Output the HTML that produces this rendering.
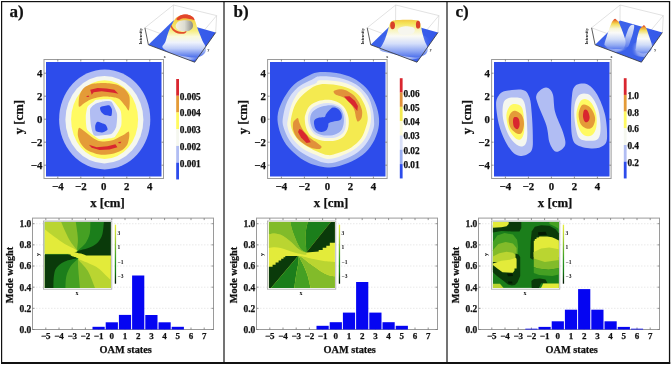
<!DOCTYPE html>
<html><head><meta charset="utf-8"><style>
html,body{margin:0;padding:0;background:#fff;overflow:hidden;}
svg{display:block;filter:blur(0.35px);}
text{font-family:"Liberation Serif",serif;font-weight:bold;fill:#111;stroke:#111;stroke-width:0.25px;}
text[font-weight="normal"]{stroke:none;}
</style></head><body>
<svg width="671" height="365" viewBox="0 0 671 365">
<rect x="0" y="0" width="671" height="365" fill="#fff"/>
<rect x="46" y="62" width="115.5" height="114.5" fill="#2d4ceb"/>
<ellipse cx="104.7" cy="119.4" rx="45.6" ry="50" fill="#b1bdf3"/>
<ellipse cx="104.4" cy="119.7" rx="39" ry="43.7" fill="#f5f7ef"/>
<ellipse cx="104.6" cy="119.6" rx="33.5" ry="39.3" fill="#fffa62"/>
<path d="M78.90,106.60 C78.31,105.57 78.75,98.29 79.40,95.80 C80.05,93.31 82.16,89.49 83.80,87.90 C85.44,86.31 88.94,84.57 91.70,83.90 C94.46,83.23 101.21,82.83 104.50,82.90 C107.79,82.97 113.76,83.61 116.40,84.40 C119.04,85.19 122.59,87.28 124.30,88.80 C126.01,90.32 128.48,93.83 129.20,95.80 C129.92,97.77 129.77,101.64 129.70,103.60 C129.63,105.56 129.29,110.18 128.70,110.50 C128.11,110.82 126.42,107.40 125.30,106.00 C124.18,104.60 121.62,101.12 120.30,100.00 C118.98,98.88 117.52,98.07 115.40,97.60 C113.28,97.13 107.32,96.39 104.40,96.50 C101.48,96.61 95.62,97.87 93.50,98.40 C91.38,98.93 89.79,99.82 88.50,100.50 C87.21,101.18 85.08,102.69 83.80,103.50 C82.52,104.31 79.49,107.63 78.90,106.60Z" fill="#e49b38"/>
<path d="M78.90,127.90 C77.98,128.47 77.63,133.69 77.90,135.80 C78.17,137.91 79.58,141.73 80.90,143.70 C82.22,145.67 85.31,149.15 87.80,150.60 C90.29,152.05 96.45,154.13 99.60,154.60 C102.75,155.07 108.51,154.63 111.40,154.10 C114.29,153.57 119.19,151.85 121.30,150.60 C123.41,149.35 126.15,146.54 127.20,144.70 C128.25,142.86 129.00,138.57 129.20,136.80 C129.40,135.03 129.35,131.71 128.70,131.40 C128.05,131.09 125.42,133.82 124.30,134.50 C123.18,135.18 121.75,135.77 120.30,136.50 C118.85,137.23 115.51,139.33 113.40,140.00 C111.29,140.67 106.61,141.43 104.50,141.50 C102.39,141.57 99.31,141.10 97.60,140.50 C95.89,139.90 93.41,138.20 91.70,137.00 C89.99,135.80 86.51,132.71 84.80,131.50 C83.09,130.29 79.82,127.33 78.90,127.90Z" fill="#e49b38"/>
<path d="M90.20,89.80 L97.60,87.90 L106.50,88.40 L114.40,89.80 L118.40,93.80 L113.40,92.80 L101.60,91.30 L93.70,92.30 L91.70,94.80Z" fill="#d9262f"/>
<path d="M86.30,96.30 L88.50,95.60 L89.30,96.80 L86.80,97.00Z" fill="#d9262f"/>
<path d="M88.80,144.70 L96.70,147.20 L107.50,146.20 L115.40,144.20 L117.40,147.20 L109.50,149.60 L99.60,150.10 L91.70,147.70Z" fill="#d9262f"/>
<path d="M118.40,142.00 L121.30,141.80 L120.50,143.20 L118.60,143.20Z" fill="#d9262f"/>
<path d="M87.50,107.00 C88.27,105.52 92.60,102.52 93.50,101.80 C94.40,101.08 94.70,100.00 96.50,99.80 C98.30,99.60 109.09,98.70 111.50,99.80 C113.91,100.90 119.62,108.25 120.60,110.80 C121.58,113.35 121.88,122.69 121.30,125.30 C120.72,127.91 116.53,135.55 114.80,136.90 C113.07,138.25 105.60,138.58 104.00,138.80 C102.40,139.02 100.48,140.01 98.80,139.10 C97.12,138.19 88.50,131.95 87.20,129.70 C85.90,127.45 85.77,118.87 85.80,116.60 C85.83,114.33 86.73,108.48 87.50,107.00Z" fill="#f5f7ef"/>
<path d="M95.50,103.80 C96.83,103.04 102.91,101.49 104.40,101.30 C105.89,101.11 110.32,100.64 111.50,101.80 C112.68,102.96 116.56,111.37 117.00,113.70 C117.44,116.03 116.74,124.91 116.20,126.80 C115.66,128.69 113.23,133.19 111.20,134.00 C109.17,134.81 96.39,136.31 94.50,135.50 C92.61,134.69 91.31,127.74 90.90,125.30 C90.49,122.86 89.67,111.41 90.10,109.40 C90.53,107.39 94.17,104.56 95.50,103.80Z" fill="#b1bdf3"/>
<path d="M100.30,107.20 C101.10,106.57 107.84,105.08 109.00,105.30 C110.16,105.52 111.68,108.34 111.90,109.40 C112.12,110.46 112.00,115.39 111.20,115.90 C110.40,116.41 104.92,114.93 103.90,114.50 C102.88,114.07 101.36,112.33 101.00,111.60 C100.64,110.87 99.50,107.83 100.30,107.20Z" fill="#2d4ceb"/>
<path d="M97.40,121.70 C98.42,121.56 104.39,123.80 105.40,124.60 C106.41,125.40 107.87,128.90 107.50,129.70 C107.13,130.50 102.86,132.46 101.70,132.60 C100.54,132.74 96.55,131.76 95.90,131.10 C95.25,130.44 95.05,126.94 95.20,126.00 C95.35,125.06 96.38,121.84 97.40,121.70Z" fill="#2d4ceb"/>
<defs><linearGradient id="fla" gradientUnits="userSpaceOnUse" x1="148.4" y1="44.8" x2="215.7" y2="32.5"><stop offset="0" stop-color="#3a60ea"/><stop offset="0.5" stop-color="#3c62ea"/><stop offset="1" stop-color="#3458ea"/></linearGradient><filter id="bla" x="-20%" y="-20%" width="140%" height="140%"><feGaussianBlur stdDeviation="0.6"/></filter><clipPath id="cpa"><path d="M148.40,44.80 L173.30,20.50 L215.70,32.50 L194.70,62.20Z"/></clipPath></defs>
<path d="M144.90,27.80 L173.40,5.00 L216.60,15.60 M173.30,20.50 L173.40,5.00 M216.60,15.60 L215.70,32.50 M144.90,27.80 L191.60,45.30 L216.60,15.60" fill="none" stroke="#c4c4c4" stroke-width="0.5"/>
<path d="M148.40,44.80 L173.30,20.50 L215.70,32.50 L194.70,62.20Z" fill="url(#fla)"/>
<g filter="url(#bla)"><defs><radialGradient id="ga" gradientUnits="userSpaceOnUse" cx="185" cy="50" r="20"><stop offset="0" stop-color="#ffffff" stop-opacity="0.9"/><stop offset="0.5" stop-color="#dfe6fa" stop-opacity="0.6"/><stop offset="1" stop-color="#4467ea" stop-opacity="0"/></radialGradient></defs>
<ellipse cx="185" cy="50" rx="22" ry="11" fill="url(#ga)" clip-path="url(#cpa)"/>
<defs><linearGradient id="ha" gradientUnits="userSpaceOnUse" x1="0" y1="14.5" x2="0" y2="57"><stop offset="0" stop-color="#e65a2c"/><stop offset="0.06" stop-color="#f0a838"/><stop offset="0.16" stop-color="#f4d84e"/><stop offset="0.38" stop-color="#f7ee80"/><stop offset="0.52" stop-color="#fafadc"/><stop offset="0.66" stop-color="#eef2fc"/><stop offset="0.8" stop-color="#c0cef8"/><stop offset="0.92" stop-color="#7e98f0"/><stop offset="1" stop-color="#5274ec"/></linearGradient></defs>
<path d="M162.50,47.50 C161.72,45.75 164.45,44.15 165.30,42.00 C166.15,39.85 166.85,36.82 167.60,34.60 C168.35,32.38 168.98,30.55 169.80,28.70 C170.62,26.85 171.52,25.23 172.50,23.50 C173.48,21.77 174.30,19.68 175.70,18.30 C177.10,16.92 179.18,15.83 180.90,15.20 C182.62,14.57 184.28,14.37 186.00,14.50 C187.72,14.63 189.72,14.98 191.20,16.00 C192.68,17.02 193.92,18.73 194.90,20.60 C195.88,22.47 196.37,25.12 197.10,27.20 C197.83,29.28 198.43,30.88 199.30,33.10 C200.17,35.32 201.18,38.03 202.30,40.50 C203.42,42.97 205.72,45.65 206.00,47.90 C206.28,50.15 205.67,52.40 204.00,54.00 C202.33,55.60 199.67,57.17 196.00,57.50 C192.33,57.83 186.33,56.83 182.00,56.00 C177.67,55.17 173.25,53.92 170.00,52.50 C166.75,51.08 163.28,49.25 162.50,47.50Z" fill="url(#ha)" transform="translate(0,0)" />
<path d="M176.50,19.00 C176.67,18.28 178.25,16.73 179.50,16.00 C180.75,15.27 182.42,14.78 184.00,14.60 C185.58,14.42 187.50,14.50 189.00,14.90 C190.50,15.30 192.08,16.15 193.00,17.00 C193.92,17.85 194.75,19.62 194.50,20.00 C194.25,20.38 192.75,19.57 191.50,19.30 C190.25,19.03 188.58,18.52 187.00,18.40 C185.42,18.28 183.42,18.28 182.00,18.60 C180.58,18.92 179.42,20.23 178.50,20.30 C177.58,20.37 176.33,19.72 176.50,19.00Z" fill="#e2452b" transform="translate(0,0)" />
<defs><linearGradient id="hh0" gradientUnits="userSpaceOnUse" x1="176" y1="0" x2="193" y2="0"><stop offset="0" stop-color="#f4f0de"/><stop offset="0.5" stop-color="#dcdcd2"/><stop offset="1" stop-color="#8a8a84"/></linearGradient></defs>
<path d="M176.20,24.00 C176.82,23.03 178.03,21.63 179.50,21.00 C180.97,20.37 183.17,20.20 185.00,20.20 C186.83,20.20 189.20,20.37 190.50,21.00 C191.80,21.63 192.50,22.78 192.80,24.00 C193.10,25.22 193.02,27.13 192.30,28.30 C191.58,29.47 190.13,30.50 188.50,31.00 C186.87,31.50 184.33,31.55 182.50,31.30 C180.67,31.05 178.62,30.25 177.50,29.50 C176.38,28.75 176.02,27.72 175.80,26.80 C175.58,25.88 175.58,24.97 176.20,24.00Z" fill="url(#hh0)" transform="translate(0,0)" />
<path d="M171.30,25.00 C171.72,25.17 172.47,27.50 173.50,28.50 C174.53,29.50 175.92,30.42 177.50,31.00 C179.08,31.58 181.50,31.95 183.00,32.00 C184.50,32.05 186.25,31.03 186.50,31.30 C186.75,31.57 185.92,33.25 184.50,33.60 C183.08,33.95 179.83,33.83 178.00,33.40 C176.17,32.97 174.67,31.98 173.50,31.00 C172.33,30.02 171.37,28.50 171.00,27.50 C170.63,26.50 170.88,24.83 171.30,25.00Z" fill="#e4502c" transform="translate(0,0)" /></g>
<path d="M144.90,27.80 L148.40,44.80 L194.70,62.20 L215.70,32.50" fill="none" stroke="#333" stroke-width="0.8"/>
<text transform="translate(141.7,36.3) rotate(-90)" font-size="4.3" text-anchor="middle" style="fill:#222;stroke:none">Intensity</text>
<text x="164.8" y="57.6" font-size="3.8" font-weight="normal" text-anchor="middle" style="fill:#333">x</text>
<text x="208.4" y="50.5" font-size="3.8" font-weight="normal" text-anchor="middle" style="fill:#333">y</text>
<rect x="176.2" y="79.00" width="2.8" height="16.78" fill="#d9262f"/>
<rect x="176.2" y="95.73" width="2.8" height="16.78" fill="#e49b38"/>
<rect x="176.2" y="112.47" width="2.8" height="16.78" fill="#fffa62"/>
<rect x="176.2" y="129.20" width="2.8" height="16.78" fill="#f5f7ef"/>
<rect x="176.2" y="145.93" width="2.8" height="16.78" fill="#b1bdf3"/>
<rect x="176.2" y="162.67" width="2.8" height="16.78" fill="#2d4ceb"/>
<text x="179.8" y="99.73" font-size="9.3">0.005</text>
<text x="179.8" y="116.47" font-size="9.3">0.004</text>
<text x="179.8" y="133.20" font-size="9.3">0.003</text>
<text x="179.8" y="149.93" font-size="9.3">0.002</text>
<text x="179.8" y="166.67" font-size="9.3">0.001</text>
<rect x="44" y="59.5" width="119.5" height="119" fill="none" stroke="#9a9a9a" stroke-width="1"/>
<line x1="57.8" y1="178.5" x2="57.8" y2="176.5" stroke="#777" stroke-width="0.8"/>
<line x1="57.8" y1="59.5" x2="57.8" y2="61.5" stroke="#777" stroke-width="0.8"/>
<line x1="44" y1="165.2" x2="46" y2="165.2" stroke="#777" stroke-width="0.8"/>
<line x1="163.5" y1="165.2" x2="161.5" y2="165.2" stroke="#777" stroke-width="0.8"/>
<text x="57.8" y="189.5" font-size="10.8" text-anchor="middle">−4</text>
<text x="42.3" y="168.79999999999998" font-size="10.8" text-anchor="end">−4</text>
<line x1="80.8" y1="178.5" x2="80.8" y2="176.5" stroke="#777" stroke-width="0.8"/>
<line x1="80.8" y1="59.5" x2="80.8" y2="61.5" stroke="#777" stroke-width="0.8"/>
<line x1="44" y1="142.2" x2="46" y2="142.2" stroke="#777" stroke-width="0.8"/>
<line x1="163.5" y1="142.2" x2="161.5" y2="142.2" stroke="#777" stroke-width="0.8"/>
<text x="80.8" y="189.5" font-size="10.8" text-anchor="middle">−2</text>
<text x="42.3" y="145.79999999999998" font-size="10.8" text-anchor="end">−2</text>
<line x1="103.8" y1="178.5" x2="103.8" y2="176.5" stroke="#777" stroke-width="0.8"/>
<line x1="103.8" y1="59.5" x2="103.8" y2="61.5" stroke="#777" stroke-width="0.8"/>
<line x1="44" y1="119.2" x2="46" y2="119.2" stroke="#777" stroke-width="0.8"/>
<line x1="163.5" y1="119.2" x2="161.5" y2="119.2" stroke="#777" stroke-width="0.8"/>
<text x="103.8" y="189.5" font-size="10.8" text-anchor="middle">0</text>
<text x="42.3" y="122.8" font-size="10.8" text-anchor="end">0</text>
<line x1="126.8" y1="178.5" x2="126.8" y2="176.5" stroke="#777" stroke-width="0.8"/>
<line x1="126.8" y1="59.5" x2="126.8" y2="61.5" stroke="#777" stroke-width="0.8"/>
<line x1="44" y1="96.2" x2="46" y2="96.2" stroke="#777" stroke-width="0.8"/>
<line x1="163.5" y1="96.2" x2="161.5" y2="96.2" stroke="#777" stroke-width="0.8"/>
<text x="126.8" y="189.5" font-size="10.8" text-anchor="middle">2</text>
<text x="42.3" y="99.8" font-size="10.8" text-anchor="end">2</text>
<line x1="149.8" y1="178.5" x2="149.8" y2="176.5" stroke="#777" stroke-width="0.8"/>
<line x1="149.8" y1="59.5" x2="149.8" y2="61.5" stroke="#777" stroke-width="0.8"/>
<line x1="44" y1="73.2" x2="46" y2="73.2" stroke="#777" stroke-width="0.8"/>
<line x1="163.5" y1="73.2" x2="161.5" y2="73.2" stroke="#777" stroke-width="0.8"/>
<text x="149.8" y="189.5" font-size="10.8" text-anchor="middle">4</text>
<text x="42.3" y="76.8" font-size="10.8" text-anchor="end">4</text>
<text x="107.5" y="206.6" font-size="12.8" text-anchor="middle">x [cm]</text>
<text transform="translate(23.4,117.1) rotate(-90)" font-size="12.8" text-anchor="middle">y [cm]</text>
<rect x="32.5" y="218.1" width="181" height="111.4" fill="none" stroke="#9a9a9a" stroke-width="1"/>
<line x1="32.5" y1="329.50" x2="34.5" y2="329.50" stroke="#777" stroke-width="0.8"/>
<line x1="213.5" y1="329.50" x2="211.5" y2="329.50" stroke="#777" stroke-width="0.8"/>
<text x="31.3" y="332.90" font-size="9.5" text-anchor="end">0.0</text>
<line x1="33" y1="308.34" x2="213" y2="308.34" stroke="#dadada" stroke-width="0.6" stroke-dasharray="1.5,1.5"/>
<line x1="32.5" y1="308.34" x2="34.5" y2="308.34" stroke="#777" stroke-width="0.8"/>
<line x1="213.5" y1="308.34" x2="211.5" y2="308.34" stroke="#777" stroke-width="0.8"/>
<text x="31.3" y="311.74" font-size="9.5" text-anchor="end">0.2</text>
<line x1="33" y1="287.18" x2="213" y2="287.18" stroke="#dadada" stroke-width="0.6" stroke-dasharray="1.5,1.5"/>
<line x1="32.5" y1="287.18" x2="34.5" y2="287.18" stroke="#777" stroke-width="0.8"/>
<line x1="213.5" y1="287.18" x2="211.5" y2="287.18" stroke="#777" stroke-width="0.8"/>
<text x="31.3" y="290.58" font-size="9.5" text-anchor="end">0.4</text>
<line x1="33" y1="266.02" x2="213" y2="266.02" stroke="#dadada" stroke-width="0.6" stroke-dasharray="1.5,1.5"/>
<line x1="32.5" y1="266.02" x2="34.5" y2="266.02" stroke="#777" stroke-width="0.8"/>
<line x1="213.5" y1="266.02" x2="211.5" y2="266.02" stroke="#777" stroke-width="0.8"/>
<text x="31.3" y="269.42" font-size="9.5" text-anchor="end">0.6</text>
<line x1="33" y1="244.86" x2="213" y2="244.86" stroke="#dadada" stroke-width="0.6" stroke-dasharray="1.5,1.5"/>
<line x1="32.5" y1="244.86" x2="34.5" y2="244.86" stroke="#777" stroke-width="0.8"/>
<line x1="213.5" y1="244.86" x2="211.5" y2="244.86" stroke="#777" stroke-width="0.8"/>
<text x="31.3" y="248.26" font-size="9.5" text-anchor="end">0.8</text>
<line x1="33" y1="223.70" x2="213" y2="223.70" stroke="#dadada" stroke-width="0.6" stroke-dasharray="1.5,1.5"/>
<line x1="32.5" y1="223.70" x2="34.5" y2="223.70" stroke="#777" stroke-width="0.8"/>
<line x1="213.5" y1="223.70" x2="211.5" y2="223.70" stroke="#777" stroke-width="0.8"/>
<text x="31.3" y="227.10" font-size="9.5" text-anchor="end">1.0</text>
<text x="45.80" y="338.8" font-size="9" text-anchor="middle">−5</text>
<line x1="45.80" y1="218.1" x2="45.80" y2="220.1" stroke="#777" stroke-width="0.8"/>
<line x1="45.80" y1="329.5" x2="45.80" y2="327.5" stroke="#777" stroke-width="0.8"/>
<text x="59.00" y="338.8" font-size="9" text-anchor="middle">−4</text>
<line x1="59.00" y1="218.1" x2="59.00" y2="220.1" stroke="#777" stroke-width="0.8"/>
<line x1="59.00" y1="329.5" x2="59.00" y2="327.5" stroke="#777" stroke-width="0.8"/>
<text x="72.20" y="338.8" font-size="9" text-anchor="middle">−3</text>
<line x1="72.20" y1="218.1" x2="72.20" y2="220.1" stroke="#777" stroke-width="0.8"/>
<line x1="72.20" y1="329.5" x2="72.20" y2="327.5" stroke="#777" stroke-width="0.8"/>
<text x="85.40" y="338.8" font-size="9" text-anchor="middle">−2</text>
<line x1="85.40" y1="218.1" x2="85.40" y2="220.1" stroke="#777" stroke-width="0.8"/>
<line x1="85.40" y1="329.5" x2="85.40" y2="327.5" stroke="#777" stroke-width="0.8"/>
<text x="98.60" y="338.8" font-size="9" text-anchor="middle">−1</text>
<line x1="98.60" y1="218.1" x2="98.60" y2="220.1" stroke="#777" stroke-width="0.8"/>
<line x1="98.60" y1="329.5" x2="98.60" y2="327.5" stroke="#777" stroke-width="0.8"/>
<text x="111.80" y="338.8" font-size="9" text-anchor="middle">0</text>
<line x1="111.80" y1="218.1" x2="111.80" y2="220.1" stroke="#777" stroke-width="0.8"/>
<line x1="111.80" y1="329.5" x2="111.80" y2="327.5" stroke="#777" stroke-width="0.8"/>
<text x="125.00" y="338.8" font-size="9" text-anchor="middle">1</text>
<line x1="125.00" y1="218.1" x2="125.00" y2="220.1" stroke="#777" stroke-width="0.8"/>
<line x1="125.00" y1="329.5" x2="125.00" y2="327.5" stroke="#777" stroke-width="0.8"/>
<text x="138.20" y="338.8" font-size="9" text-anchor="middle">2</text>
<line x1="138.20" y1="218.1" x2="138.20" y2="220.1" stroke="#777" stroke-width="0.8"/>
<line x1="138.20" y1="329.5" x2="138.20" y2="327.5" stroke="#777" stroke-width="0.8"/>
<text x="151.40" y="338.8" font-size="9" text-anchor="middle">3</text>
<line x1="151.40" y1="218.1" x2="151.40" y2="220.1" stroke="#777" stroke-width="0.8"/>
<line x1="151.40" y1="329.5" x2="151.40" y2="327.5" stroke="#777" stroke-width="0.8"/>
<text x="164.60" y="338.8" font-size="9" text-anchor="middle">4</text>
<line x1="164.60" y1="218.1" x2="164.60" y2="220.1" stroke="#777" stroke-width="0.8"/>
<line x1="164.60" y1="329.5" x2="164.60" y2="327.5" stroke="#777" stroke-width="0.8"/>
<text x="177.80" y="338.8" font-size="9" text-anchor="middle">5</text>
<line x1="177.80" y1="218.1" x2="177.80" y2="220.1" stroke="#777" stroke-width="0.8"/>
<line x1="177.80" y1="329.5" x2="177.80" y2="327.5" stroke="#777" stroke-width="0.8"/>
<text x="191.00" y="338.8" font-size="9" text-anchor="middle">6</text>
<line x1="191.00" y1="218.1" x2="191.00" y2="220.1" stroke="#777" stroke-width="0.8"/>
<line x1="191.00" y1="329.5" x2="191.00" y2="327.5" stroke="#777" stroke-width="0.8"/>
<text x="204.20" y="338.8" font-size="9" text-anchor="middle">7</text>
<line x1="204.20" y1="218.1" x2="204.20" y2="220.1" stroke="#777" stroke-width="0.8"/>
<line x1="204.20" y1="329.5" x2="204.20" y2="327.5" stroke="#777" stroke-width="0.8"/>
<text x="125.7" y="353.2" font-size="10.3" text-anchor="middle">OAM states</text>
<text transform="translate(12.7,275) rotate(-90)" font-size="10.2" text-anchor="middle">Mode weight</text>
<rect x="92.50" y="326.80" width="12.2" height="2.70" fill="#0505f2"/>
<rect x="105.70" y="322.30" width="12.2" height="7.20" fill="#0505f2"/>
<rect x="118.90" y="314.90" width="12.2" height="14.60" fill="#0505f2"/>
<rect x="132.10" y="275.50" width="12.2" height="54.00" fill="#0505f2"/>
<rect x="145.30" y="315.00" width="12.2" height="14.50" fill="#0505f2"/>
<rect x="158.50" y="322.30" width="12.2" height="7.20" fill="#0505f2"/>
<rect x="171.70" y="326.80" width="12.2" height="2.70" fill="#0505f2"/>
<rect x="43.5" y="221" width="68.3" height="68.2" fill="#fff" stroke="#aaa" stroke-width="0.8"/>
<g transform="translate(0,0)"><rect x="44.9" y="221.9" width="66.0" height="65.99999999999997" fill="#0a3a0a"/>
<path d="M44.9,221.9 L103.9,221.9 103.90,221.90 C103.63,224.02 103.25,231.27 102.30,234.60 C101.35,237.93 100.10,239.82 98.20,241.90 C96.30,243.98 93.85,245.70 90.90,247.10 C87.95,248.50 82.73,249.65 80.50,250.30 C78.27,250.95 78.00,250.88 77.50,251.00 L77.50,251.00 L72.00,253.40 L44.90,253.40Z" fill="#1b7e1b"/>
<path d="M44.9,221.9 L90.4,221.9 90.40,221.90 C90.30,223.83 90.58,230.00 89.80,233.50 C89.02,237.00 87.42,240.32 85.70,242.90 C83.98,245.48 80.87,247.65 79.50,249.00 C78.13,250.35 77.83,250.67 77.50,251.00 L77.50,251.00 L72.00,253.40 L44.90,253.40Z" fill="#45a023"/>
<path d="M44.9,221.9 L75.8,221.9 75.80,221.90 C76.05,223.67 76.95,229.35 77.30,232.50 C77.65,235.65 77.92,238.12 77.90,240.80 C77.88,243.48 77.27,246.90 77.20,248.60 C77.13,250.30 77.45,250.60 77.50,251.00 L77.50,251.00 L72.00,253.40 L44.90,253.40Z" fill="#82bb2a"/>
<path d="M44.9,221.9 L61.2,221.9 61.20,221.90 C61.80,223.32 63.33,227.25 64.80,230.40 C66.27,233.55 68.26,237.85 70.00,240.80 C71.74,243.75 74.00,246.40 75.25,248.10 C76.50,249.80 77.12,250.52 77.50,251.00 L77.50,251.00 L72.00,253.40 L44.90,253.40Z" fill="#bad531"/>
<path d="M44.9,229.4 45.00,229.40 C46.57,230.62 51.10,234.27 54.40,236.70 C57.70,239.13 61.32,241.88 64.80,244.00 C68.27,246.12 73.13,248.23 75.25,249.40 C77.37,250.57 77.12,250.73 77.50,251.00 L77.50,251.00 L72.00,253.40 L44.90,253.40Z" fill="#e3eb3a"/>
<path d="M110.90,255.50 L110.90,287.90 L44.90,287.90 L44.90,254.60 L68.00,254.60 L84.00,255.50Z" fill="#e3eb3a"/>
<path d="M78.3,258.6 78.30,258.60 C78.48,258.73 76.43,258.05 79.40,259.40 C82.37,260.75 91.58,263.93 96.10,266.70 C100.62,269.47 104.03,273.75 106.50,276.00 C108.97,278.25 110.17,279.50 110.90,280.20 L110.9,287.9 L44.90,287.90 L44.90,254.60 L68.00,254.60Z" fill="#bad531"/>
<path d="M78.3,258.6 78.30,258.60 C78.32,258.82 76.83,257.87 78.40,259.90 C79.98,261.93 84.98,266.13 87.75,270.80 C90.52,275.47 93.79,285.05 95.00,287.90 L44.90,287.90 L44.90,254.60 L68.00,254.60Z" fill="#82bb2a"/>
<path d="M78.3,258.6 78.30,258.60 C78.23,258.90 77.88,258.37 77.90,260.40 C77.92,262.43 78.07,266.22 78.40,270.80 C78.73,275.38 79.65,285.05 79.90,287.90 L44.90,287.90 L44.90,254.60 L68.00,254.60Z" fill="#45a023"/>
<path d="M78.3,258.6 78.30,258.60 C78.13,258.73 78.50,258.23 77.30,259.40 C76.10,260.57 72.92,262.83 71.10,265.60 C69.28,268.37 67.35,272.28 66.40,276.00 C65.45,279.72 65.57,285.92 65.40,287.90 L44.90,287.90 L44.90,254.60 L68.00,254.60Z" fill="#1b7e1b"/>
<path d="M78.3,258.6 78.30,258.60 C78.13,258.55 79.55,257.82 77.30,258.30 C75.05,258.78 68.27,259.93 64.80,261.50 C61.33,263.07 58.32,265.28 56.50,267.70 C54.68,270.12 54.42,272.63 53.90,276.00 C53.38,279.37 53.48,285.92 53.40,287.90 L44.90,287.90 L44.90,254.60 L68.00,254.60Z" fill="#0a3a0a"/>
<path d="M44.90,250.80 L66.00,250.80 L69.00,251.20 L72.50,252.20 L75.30,252.20 L78.40,253.30 L81.00,253.60 L84.60,254.80 L86.70,256.30 L110.90,256.30 L110.90,258.40 L83.60,258.40 L80.00,258.00 L77.30,257.80 L74.50,256.60 L72.10,256.30 L70.50,254.60 L69.00,253.70 L44.90,253.70Z" fill="#e3eb3a"/></g>
<defs><linearGradient id="pg0" x1="0" y1="0" x2="0" y2="1"><stop offset="0" stop-color="#e9ef3a"/><stop offset="0.2" stop-color="#b7d637"/><stop offset="0.4" stop-color="#6fb52b"/><stop offset="0.6" stop-color="#2f9a22"/><stop offset="0.8" stop-color="#127a12"/><stop offset="1" stop-color="#021402"/></linearGradient></defs>
<rect x="114.8" y="224.7" width="1.3" height="59" fill="url(#pg0)"/>
<text x="117.5" y="234.5" font-size="5.5" font-weight="normal">3</text>
<text x="117.5" y="249.3" font-size="5.5" font-weight="normal">1</text>
<text x="117.5" y="264.1" font-size="5.5" font-weight="normal">−1</text>
<text x="117.5" y="278.40000000000003" font-size="5.5" font-weight="normal">−3</text>
<text transform="translate(40.4,254.4) rotate(-90)" font-size="6" font-weight="normal" text-anchor="middle">y</text>
<text x="76.9" y="295" font-size="6" font-weight="normal" text-anchor="middle">x</text>
<rect x="270" y="62" width="115.5" height="114.5" fill="#2d4ceb"/>
<path d="M320.00,72.10 C324.58,71.68 330.92,71.93 336.40,72.90 C341.88,73.87 347.97,75.43 352.90,77.90 C357.83,80.37 362.43,83.87 366.00,87.70 C369.57,91.53 372.20,96.35 374.30,100.90 C376.40,105.45 377.92,110.42 378.60,115.00 C379.28,119.58 379.40,123.68 378.40,128.40 C377.40,133.12 375.20,138.90 372.60,143.30 C370.00,147.70 366.90,151.52 362.80,154.80 C358.70,158.08 353.47,160.88 348.00,163.00 C342.53,165.12 336.52,167.50 330.00,167.50 C323.48,167.50 314.88,165.40 308.90,163.00 C302.92,160.60 298.22,156.67 294.10,153.10 C289.98,149.53 286.80,145.98 284.20,141.60 C281.60,137.22 279.53,131.57 278.50,126.80 C277.47,122.03 277.05,117.87 278.00,113.00 C278.95,108.13 281.52,102.37 284.20,97.60 C286.88,92.83 289.98,88.10 294.10,84.40 C298.22,80.70 304.58,77.45 308.90,75.40 C313.22,73.35 315.42,72.52 320.00,72.10Z" fill="#98acef"/>
<path d="M320.00,76.20 C324.58,75.93 333.67,76.53 339.70,77.90 C345.73,79.27 351.53,81.38 356.20,84.40 C360.87,87.42 364.97,91.88 367.70,96.00 C370.43,100.12 371.55,105.10 372.60,109.10 C373.65,113.10 373.85,116.78 374.00,120.00 C374.15,123.22 374.55,124.80 373.50,128.40 C372.45,132.00 370.32,137.62 367.70,141.60 C365.08,145.58 361.92,149.28 357.80,152.30 C353.68,155.32 347.97,157.88 343.00,159.70 C338.03,161.52 332.87,163.33 328.00,163.20 C323.13,163.07 318.63,160.98 313.80,158.90 C308.97,156.82 303.10,153.85 299.00,150.70 C294.90,147.55 291.80,143.98 289.20,140.00 C286.60,136.02 284.43,130.63 283.40,126.80 C282.37,122.97 282.32,121.32 283.00,117.00 C283.68,112.68 285.10,105.78 287.50,100.90 C289.90,96.02 293.28,91.27 297.40,87.70 C301.52,84.13 308.43,81.42 312.20,79.50 C315.97,77.58 315.42,76.47 320.00,76.20Z" fill="#d9e0f8"/>
<path d="M320.00,80.30 C324.32,80.03 335.10,80.48 341.40,82.00 C347.70,83.52 353.42,85.98 357.80,89.40 C362.18,92.82 365.50,98.12 367.70,102.50 C369.90,106.88 370.73,111.38 371.00,115.70 C371.27,120.02 370.53,124.22 369.30,128.40 C368.07,132.58 366.20,137.23 363.60,140.80 C361.00,144.37 357.68,147.20 353.70,149.80 C349.72,152.40 344.15,154.88 339.70,156.40 C335.25,157.92 331.03,159.17 327.00,158.90 C322.97,158.63 319.62,156.58 315.50,154.80 C311.38,153.02 306.15,150.95 302.30,148.20 C298.45,145.45 294.87,141.87 292.40,138.30 C289.93,134.73 288.18,130.30 287.50,126.80 C286.82,123.30 287.48,121.35 288.30,117.30 C289.12,113.25 290.33,107.02 292.40,102.50 C294.47,97.98 296.85,93.35 300.70,90.20 C304.55,87.05 312.28,85.25 315.50,83.60 C318.72,81.95 315.68,80.57 320.00,80.30Z" fill="#fcfad8"/>
<path d="M320.00,84.40 C325.68,83.58 335.37,84.72 341.40,86.10 C347.43,87.48 352.37,89.68 356.20,92.70 C360.03,95.72 362.48,100.10 364.40,104.20 C366.32,108.30 367.43,113.53 367.70,117.30 C367.97,121.07 367.10,123.30 366.00,126.80 C364.90,130.30 363.55,134.87 361.10,138.30 C358.65,141.73 355.13,144.93 351.30,147.40 C347.47,149.87 341.98,151.82 338.10,153.10 C334.22,154.38 331.50,155.37 328.00,155.10 C324.50,154.83 320.97,153.20 317.10,151.50 C313.23,149.80 308.37,147.37 304.80,144.90 C301.23,142.43 298.03,139.98 295.70,136.70 C293.37,133.42 291.35,129.25 290.80,125.20 C290.25,121.15 291.30,116.45 292.40,112.40 C293.50,108.35 294.92,104.47 297.40,100.90 C299.88,97.33 303.53,93.75 307.30,91.00 C311.07,88.25 314.32,85.22 320.00,84.40Z" fill="#f4ea50"/>
<path d="M333.80,91.00 C334.45,90.44 337.61,89.28 339.30,89.20 C340.99,89.12 344.58,89.59 346.50,90.40 C348.42,91.21 352.02,93.69 353.70,95.30 C355.38,96.91 357.98,100.42 359.10,102.50 C360.22,104.58 361.78,108.82 362.10,110.90 C362.42,112.98 362.06,116.65 361.50,118.10 C360.94,119.55 358.62,121.80 357.90,121.80 C357.18,121.80 356.58,119.71 356.10,118.10 C355.62,116.49 355.10,111.70 354.30,109.70 C353.50,107.70 351.46,104.70 350.10,103.10 C348.74,101.50 345.79,98.74 344.10,97.70 C342.41,96.66 338.69,95.87 337.40,95.30 C336.11,94.73 334.88,93.97 334.40,93.40 C333.92,92.83 333.15,91.56 333.80,91.00Z" fill="#e1913a"/>
<path d="M344.10,96.50 L349.50,96.20 L354.90,100.70 L357.90,106.10 L357.30,110.90 L353.10,106.10 L347.70,100.70Z" fill="#d9262f"/>
<path d="M298.00,118.20 C298.49,118.60 298.65,120.87 299.30,122.40 C299.95,123.93 301.46,127.61 302.90,129.70 C304.34,131.79 308.18,136.34 310.10,138.10 C312.02,139.86 315.78,141.78 317.30,142.90 C318.82,144.02 321.18,145.70 321.50,146.50 C321.82,147.30 320.90,148.66 319.70,148.90 C318.50,149.14 314.58,148.94 312.50,148.30 C310.42,147.66 306.19,145.54 304.10,144.10 C302.01,142.66 298.25,139.42 296.80,137.50 C295.35,135.58 293.68,131.71 293.20,129.70 C292.72,127.69 292.88,123.77 293.20,122.40 C293.52,121.03 294.96,119.96 295.60,119.40 C296.24,118.84 297.51,117.80 298.00,118.20Z" fill="#e1913a"/>
<path d="M299.30,129.10 L301.70,129.70 L307.10,135.70 L310.70,142.30 L306.50,142.90 L301.00,137.50 L298.00,132.10Z" fill="#d9262f"/>
<path d="M305.50,114.20 C306.30,111.92 307.55,108.17 309.60,106.00 C311.65,103.83 314.60,102.23 317.80,101.20 C321.00,100.17 325.37,99.58 328.80,99.80 C332.23,100.02 335.67,101.02 338.40,102.50 C341.13,103.98 343.50,106.07 345.20,108.70 C346.90,111.33 348.15,114.88 348.60,118.30 C349.05,121.72 348.92,126.00 347.90,129.20 C346.88,132.40 345.00,135.55 342.50,137.50 C340.00,139.45 336.57,140.45 332.90,140.90 C329.23,141.35 324.15,141.00 320.50,140.20 C316.85,139.40 313.38,138.15 311.00,136.10 C308.62,134.05 307.23,130.63 306.20,127.90 C305.17,125.17 304.92,121.98 304.80,119.70 C304.68,117.42 304.70,116.48 305.50,114.20Z" fill="#fcfad8"/>
<path d="M308.20,115.50 C308.77,112.65 310.25,109.93 312.30,108.00 C314.35,106.07 317.53,104.70 320.50,103.90 C323.47,103.10 326.90,102.85 330.10,103.20 C333.30,103.55 337.30,104.40 339.70,106.00 C342.10,107.60 343.47,110.07 344.50,112.80 C345.53,115.53 346.02,119.20 345.90,122.40 C345.78,125.60 345.52,129.48 343.80,132.00 C342.08,134.52 339.02,136.58 335.60,137.50 C332.18,138.42 326.95,138.18 323.30,137.50 C319.65,136.82 316.10,135.47 313.70,133.40 C311.30,131.33 309.82,128.08 308.90,125.10 C307.98,122.12 307.63,118.35 308.20,115.50Z" fill="#d9e0f8"/>
<path d="M310.30,116.90 C310.75,114.52 311.77,112.52 313.70,110.80 C315.63,109.08 318.93,107.52 321.90,106.60 C324.87,105.68 328.53,105.07 331.50,105.30 C334.47,105.53 337.75,106.52 339.70,108.00 C341.65,109.48 342.52,111.80 343.20,114.20 C343.88,116.60 344.15,119.67 343.80,122.40 C343.45,125.13 342.70,128.55 341.10,130.60 C339.50,132.65 337.05,133.90 334.20,134.70 C331.35,135.50 327.18,135.85 324.00,135.40 C320.82,134.95 317.27,133.72 315.10,132.00 C312.93,130.28 311.80,127.62 311.00,125.10 C310.20,122.58 309.85,119.28 310.30,116.90Z" fill="#98acef"/>
<path d="M314.40,120.30 C315.20,118.93 317.48,118.17 319.20,117.60 C320.92,117.03 323.57,117.47 324.70,116.90 C325.83,116.33 325.20,115.33 326.00,114.20 C326.80,113.07 328.35,111.20 329.50,110.10 C330.65,109.00 331.53,107.83 332.90,107.60 C334.27,107.37 336.33,107.83 337.70,108.70 C339.07,109.57 340.42,111.32 341.10,112.80 C341.78,114.28 342.03,116.35 341.80,117.60 C341.57,118.85 341.18,119.62 339.70,120.30 C338.22,120.98 334.72,121.23 332.90,121.70 C331.08,122.17 329.60,122.30 328.80,123.10 C328.00,123.90 328.57,125.25 328.10,126.50 C327.63,127.75 327.15,129.68 326.00,130.60 C324.85,131.52 322.80,132.12 321.20,132.00 C319.60,131.88 317.53,130.93 316.40,129.90 C315.27,128.87 314.73,127.40 314.40,125.80 C314.07,124.20 313.60,121.67 314.40,120.30Z" fill="#2d4ceb"/>
<defs><linearGradient id="flb" gradientUnits="userSpaceOnUse" x1="370.70000000000005" y1="44.8" x2="438.0" y2="32.5"><stop offset="0" stop-color="#3a60ea"/><stop offset="0.5" stop-color="#3c62ea"/><stop offset="1" stop-color="#3458ea"/></linearGradient><filter id="blb" x="-20%" y="-20%" width="140%" height="140%"><feGaussianBlur stdDeviation="0.6"/></filter><clipPath id="cpb"><path d="M370.70,44.80 L395.60,20.50 L438.00,32.50 L417.00,62.20Z"/></clipPath></defs>
<path d="M367.20,27.80 L395.70,5.00 L438.90,15.60 M395.60,20.50 L395.70,5.00 M438.90,15.60 L438.00,32.50 M367.20,27.80 L413.90,45.30 L438.90,15.60" fill="none" stroke="#c4c4c4" stroke-width="0.5"/>
<path d="M370.70,44.80 L395.60,20.50 L438.00,32.50 L417.00,62.20Z" fill="url(#flb)"/>
<g filter="url(#blb)"><defs><radialGradient id="gb" gradientUnits="userSpaceOnUse" cx="405.3" cy="46" r="26"><stop offset="0" stop-color="#ffffff" stop-opacity="0.95"/><stop offset="0.5" stop-color="#dfe6fa" stop-opacity="0.7"/><stop offset="1" stop-color="#4467ea" stop-opacity="0"/></radialGradient></defs>
<ellipse cx="405.3" cy="46" rx="28" ry="14" fill="url(#gb)" clip-path="url(#cpb)"/>
<defs><linearGradient id="hb" gradientUnits="userSpaceOnUse" x1="0" y1="19" x2="0" y2="57"><stop offset="0" stop-color="#f2c440"/><stop offset="0.12" stop-color="#f5e45a"/><stop offset="0.28" stop-color="#f8f4b8"/><stop offset="0.45" stop-color="#fafaf4"/><stop offset="0.65" stop-color="#d4defa"/><stop offset="0.85" stop-color="#8ea6f2"/><stop offset="1" stop-color="#5274ec"/></linearGradient></defs>
<path d="M157.40,49.90 C156.50,48.73 158.73,47.23 159.60,45.50 C160.47,43.77 161.62,41.97 162.60,39.50 C163.58,37.03 164.65,33.40 165.50,30.70 C166.35,28.00 166.95,24.92 167.70,23.30 C168.45,21.68 169.12,21.52 170.00,21.00 C170.88,20.48 170.80,20.40 173.00,20.20 C175.20,20.00 179.77,19.80 183.20,19.80 C186.63,19.80 191.33,19.97 193.60,20.20 C195.87,20.43 195.95,20.20 196.80,21.20 C197.65,22.20 198.13,24.13 198.70,26.20 C199.27,28.27 199.58,31.13 200.20,33.60 C200.82,36.07 201.53,38.53 202.40,41.00 C203.27,43.47 205.30,46.15 205.40,48.40 C205.50,50.65 205.07,52.98 203.00,54.50 C200.93,56.02 197.17,57.33 193.00,57.50 C188.83,57.67 182.67,56.33 178.00,55.50 C173.33,54.67 168.43,53.43 165.00,52.50 C161.57,51.57 158.30,51.07 157.40,49.90Z" fill="url(#hb)" transform="translate(222.3,0)" />
<defs><linearGradient id="hh222" gradientUnits="userSpaceOnUse" x1="396.3" y1="0" x2="414.3" y2="0"><stop offset="0" stop-color="#f6f6ee"/><stop offset="0.55" stop-color="#e2e2dc"/><stop offset="1" stop-color="#a8a8a0"/></linearGradient></defs>
<path d="M175.50,29.50 C175.75,28.33 177.42,27.55 179.00,27.00 C180.58,26.45 183.00,26.12 185.00,26.20 C187.00,26.28 189.75,26.78 191.00,27.50 C192.25,28.22 192.67,29.45 192.50,30.50 C192.33,31.55 191.58,33.05 190.00,33.80 C188.42,34.55 185.08,34.97 183.00,35.00 C180.92,35.03 178.75,34.92 177.50,34.00 C176.25,33.08 175.25,30.67 175.50,29.50Z" fill="url(#hh222)" transform="translate(222.3,0)" />
<ellipse cx="392.6" cy="25.3" rx="2.4" ry="3.9" fill="#d8402a"/>
<ellipse cx="418.1" cy="24.7" rx="2.2" ry="3.9" fill="#d8402a"/></g>
<path d="M367.20,27.80 L370.70,44.80 L417.00,62.20 L438.00,32.50" fill="none" stroke="#333" stroke-width="0.8"/>
<text transform="translate(364.0,36.3) rotate(-90)" font-size="4.3" text-anchor="middle" style="fill:#222;stroke:none">Intensity</text>
<text x="387.1" y="57.6" font-size="3.8" font-weight="normal" text-anchor="middle" style="fill:#333">x</text>
<text x="430.70000000000005" y="50.5" font-size="3.8" font-weight="normal" text-anchor="middle" style="fill:#333">y</text>
<rect x="399.79999999999995" y="78.20" width="2.8" height="14.36" fill="#d9262f"/>
<rect x="399.79999999999995" y="92.51" width="2.8" height="14.36" fill="#e1913a"/>
<rect x="399.79999999999995" y="106.83" width="2.8" height="14.36" fill="#f4ea50"/>
<rect x="399.79999999999995" y="121.14" width="2.8" height="14.36" fill="#fcfad8"/>
<rect x="399.79999999999995" y="135.46" width="2.8" height="14.36" fill="#d9e0f8"/>
<rect x="399.79999999999995" y="149.77" width="2.8" height="14.36" fill="#98acef"/>
<rect x="399.79999999999995" y="164.09" width="2.8" height="14.36" fill="#2d4ceb"/>
<text x="403.4" y="96.51" font-size="9.3">0.06</text>
<text x="403.4" y="110.83" font-size="9.3">0.05</text>
<text x="403.4" y="125.14" font-size="9.3">0.04</text>
<text x="403.4" y="139.46" font-size="9.3">0.03</text>
<text x="403.4" y="153.77" font-size="9.3">0.02</text>
<text x="403.4" y="168.09" font-size="9.3">0.01</text>
<rect x="267.6" y="59.5" width="119.5" height="119" fill="none" stroke="#9a9a9a" stroke-width="1"/>
<line x1="281.4" y1="178.5" x2="281.4" y2="176.5" stroke="#777" stroke-width="0.8"/>
<line x1="281.4" y1="59.5" x2="281.4" y2="61.5" stroke="#777" stroke-width="0.8"/>
<line x1="267.6" y1="165.2" x2="269.6" y2="165.2" stroke="#777" stroke-width="0.8"/>
<line x1="387.1" y1="165.2" x2="385.1" y2="165.2" stroke="#777" stroke-width="0.8"/>
<text x="281.4" y="189.5" font-size="10.8" text-anchor="middle">−4</text>
<text x="265.9" y="168.79999999999998" font-size="10.8" text-anchor="end">−4</text>
<line x1="304.4" y1="178.5" x2="304.4" y2="176.5" stroke="#777" stroke-width="0.8"/>
<line x1="304.4" y1="59.5" x2="304.4" y2="61.5" stroke="#777" stroke-width="0.8"/>
<line x1="267.6" y1="142.2" x2="269.6" y2="142.2" stroke="#777" stroke-width="0.8"/>
<line x1="387.1" y1="142.2" x2="385.1" y2="142.2" stroke="#777" stroke-width="0.8"/>
<text x="304.4" y="189.5" font-size="10.8" text-anchor="middle">−2</text>
<text x="265.9" y="145.79999999999998" font-size="10.8" text-anchor="end">−2</text>
<line x1="327.4" y1="178.5" x2="327.4" y2="176.5" stroke="#777" stroke-width="0.8"/>
<line x1="327.4" y1="59.5" x2="327.4" y2="61.5" stroke="#777" stroke-width="0.8"/>
<line x1="267.6" y1="119.2" x2="269.6" y2="119.2" stroke="#777" stroke-width="0.8"/>
<line x1="387.1" y1="119.2" x2="385.1" y2="119.2" stroke="#777" stroke-width="0.8"/>
<text x="327.4" y="189.5" font-size="10.8" text-anchor="middle">0</text>
<text x="265.9" y="122.8" font-size="10.8" text-anchor="end">0</text>
<line x1="350.4" y1="178.5" x2="350.4" y2="176.5" stroke="#777" stroke-width="0.8"/>
<line x1="350.4" y1="59.5" x2="350.4" y2="61.5" stroke="#777" stroke-width="0.8"/>
<line x1="267.6" y1="96.2" x2="269.6" y2="96.2" stroke="#777" stroke-width="0.8"/>
<line x1="387.1" y1="96.2" x2="385.1" y2="96.2" stroke="#777" stroke-width="0.8"/>
<text x="350.4" y="189.5" font-size="10.8" text-anchor="middle">2</text>
<text x="265.9" y="99.8" font-size="10.8" text-anchor="end">2</text>
<line x1="373.4" y1="178.5" x2="373.4" y2="176.5" stroke="#777" stroke-width="0.8"/>
<line x1="373.4" y1="59.5" x2="373.4" y2="61.5" stroke="#777" stroke-width="0.8"/>
<line x1="267.6" y1="73.2" x2="269.6" y2="73.2" stroke="#777" stroke-width="0.8"/>
<line x1="387.1" y1="73.2" x2="385.1" y2="73.2" stroke="#777" stroke-width="0.8"/>
<text x="373.4" y="189.5" font-size="10.8" text-anchor="middle">4</text>
<text x="265.9" y="76.8" font-size="10.8" text-anchor="end">4</text>
<text x="331.1" y="206.6" font-size="12.8" text-anchor="middle">x [cm]</text>
<text transform="translate(247.0,117.1) rotate(-90)" font-size="12.8" text-anchor="middle">y [cm]</text>
<rect x="256.5" y="218.1" width="181" height="111.4" fill="none" stroke="#9a9a9a" stroke-width="1"/>
<line x1="256.5" y1="329.50" x2="258.5" y2="329.50" stroke="#777" stroke-width="0.8"/>
<line x1="437.5" y1="329.50" x2="435.5" y2="329.50" stroke="#777" stroke-width="0.8"/>
<text x="255.3" y="332.90" font-size="9.5" text-anchor="end">0.0</text>
<line x1="257" y1="308.34" x2="437" y2="308.34" stroke="#dadada" stroke-width="0.6" stroke-dasharray="1.5,1.5"/>
<line x1="256.5" y1="308.34" x2="258.5" y2="308.34" stroke="#777" stroke-width="0.8"/>
<line x1="437.5" y1="308.34" x2="435.5" y2="308.34" stroke="#777" stroke-width="0.8"/>
<text x="255.3" y="311.74" font-size="9.5" text-anchor="end">0.2</text>
<line x1="257" y1="287.18" x2="437" y2="287.18" stroke="#dadada" stroke-width="0.6" stroke-dasharray="1.5,1.5"/>
<line x1="256.5" y1="287.18" x2="258.5" y2="287.18" stroke="#777" stroke-width="0.8"/>
<line x1="437.5" y1="287.18" x2="435.5" y2="287.18" stroke="#777" stroke-width="0.8"/>
<text x="255.3" y="290.58" font-size="9.5" text-anchor="end">0.4</text>
<line x1="257" y1="266.02" x2="437" y2="266.02" stroke="#dadada" stroke-width="0.6" stroke-dasharray="1.5,1.5"/>
<line x1="256.5" y1="266.02" x2="258.5" y2="266.02" stroke="#777" stroke-width="0.8"/>
<line x1="437.5" y1="266.02" x2="435.5" y2="266.02" stroke="#777" stroke-width="0.8"/>
<text x="255.3" y="269.42" font-size="9.5" text-anchor="end">0.6</text>
<line x1="257" y1="244.86" x2="437" y2="244.86" stroke="#dadada" stroke-width="0.6" stroke-dasharray="1.5,1.5"/>
<line x1="256.5" y1="244.86" x2="258.5" y2="244.86" stroke="#777" stroke-width="0.8"/>
<line x1="437.5" y1="244.86" x2="435.5" y2="244.86" stroke="#777" stroke-width="0.8"/>
<text x="255.3" y="248.26" font-size="9.5" text-anchor="end">0.8</text>
<line x1="257" y1="223.70" x2="437" y2="223.70" stroke="#dadada" stroke-width="0.6" stroke-dasharray="1.5,1.5"/>
<line x1="256.5" y1="223.70" x2="258.5" y2="223.70" stroke="#777" stroke-width="0.8"/>
<line x1="437.5" y1="223.70" x2="435.5" y2="223.70" stroke="#777" stroke-width="0.8"/>
<text x="255.3" y="227.10" font-size="9.5" text-anchor="end">1.0</text>
<text x="269.80" y="338.8" font-size="9" text-anchor="middle">−5</text>
<line x1="269.80" y1="218.1" x2="269.80" y2="220.1" stroke="#777" stroke-width="0.8"/>
<line x1="269.80" y1="329.5" x2="269.80" y2="327.5" stroke="#777" stroke-width="0.8"/>
<text x="283.00" y="338.8" font-size="9" text-anchor="middle">−4</text>
<line x1="283.00" y1="218.1" x2="283.00" y2="220.1" stroke="#777" stroke-width="0.8"/>
<line x1="283.00" y1="329.5" x2="283.00" y2="327.5" stroke="#777" stroke-width="0.8"/>
<text x="296.20" y="338.8" font-size="9" text-anchor="middle">−3</text>
<line x1="296.20" y1="218.1" x2="296.20" y2="220.1" stroke="#777" stroke-width="0.8"/>
<line x1="296.20" y1="329.5" x2="296.20" y2="327.5" stroke="#777" stroke-width="0.8"/>
<text x="309.40" y="338.8" font-size="9" text-anchor="middle">−2</text>
<line x1="309.40" y1="218.1" x2="309.40" y2="220.1" stroke="#777" stroke-width="0.8"/>
<line x1="309.40" y1="329.5" x2="309.40" y2="327.5" stroke="#777" stroke-width="0.8"/>
<text x="322.60" y="338.8" font-size="9" text-anchor="middle">−1</text>
<line x1="322.60" y1="218.1" x2="322.60" y2="220.1" stroke="#777" stroke-width="0.8"/>
<line x1="322.60" y1="329.5" x2="322.60" y2="327.5" stroke="#777" stroke-width="0.8"/>
<text x="335.80" y="338.8" font-size="9" text-anchor="middle">0</text>
<line x1="335.80" y1="218.1" x2="335.80" y2="220.1" stroke="#777" stroke-width="0.8"/>
<line x1="335.80" y1="329.5" x2="335.80" y2="327.5" stroke="#777" stroke-width="0.8"/>
<text x="349.00" y="338.8" font-size="9" text-anchor="middle">1</text>
<line x1="349.00" y1="218.1" x2="349.00" y2="220.1" stroke="#777" stroke-width="0.8"/>
<line x1="349.00" y1="329.5" x2="349.00" y2="327.5" stroke="#777" stroke-width="0.8"/>
<text x="362.20" y="338.8" font-size="9" text-anchor="middle">2</text>
<line x1="362.20" y1="218.1" x2="362.20" y2="220.1" stroke="#777" stroke-width="0.8"/>
<line x1="362.20" y1="329.5" x2="362.20" y2="327.5" stroke="#777" stroke-width="0.8"/>
<text x="375.40" y="338.8" font-size="9" text-anchor="middle">3</text>
<line x1="375.40" y1="218.1" x2="375.40" y2="220.1" stroke="#777" stroke-width="0.8"/>
<line x1="375.40" y1="329.5" x2="375.40" y2="327.5" stroke="#777" stroke-width="0.8"/>
<text x="388.60" y="338.8" font-size="9" text-anchor="middle">4</text>
<line x1="388.60" y1="218.1" x2="388.60" y2="220.1" stroke="#777" stroke-width="0.8"/>
<line x1="388.60" y1="329.5" x2="388.60" y2="327.5" stroke="#777" stroke-width="0.8"/>
<text x="401.80" y="338.8" font-size="9" text-anchor="middle">5</text>
<line x1="401.80" y1="218.1" x2="401.80" y2="220.1" stroke="#777" stroke-width="0.8"/>
<line x1="401.80" y1="329.5" x2="401.80" y2="327.5" stroke="#777" stroke-width="0.8"/>
<text x="415.00" y="338.8" font-size="9" text-anchor="middle">6</text>
<line x1="415.00" y1="218.1" x2="415.00" y2="220.1" stroke="#777" stroke-width="0.8"/>
<line x1="415.00" y1="329.5" x2="415.00" y2="327.5" stroke="#777" stroke-width="0.8"/>
<text x="428.20" y="338.8" font-size="9" text-anchor="middle">7</text>
<line x1="428.20" y1="218.1" x2="428.20" y2="220.1" stroke="#777" stroke-width="0.8"/>
<line x1="428.20" y1="329.5" x2="428.20" y2="327.5" stroke="#777" stroke-width="0.8"/>
<text x="349.7" y="353.2" font-size="10.3" text-anchor="middle">OAM states</text>
<text transform="translate(236.7,275) rotate(-90)" font-size="10.2" text-anchor="middle">Mode weight</text>
<rect x="316.50" y="325.80" width="12.2" height="3.70" fill="#0505f2"/>
<rect x="329.70" y="322.20" width="12.2" height="7.30" fill="#0505f2"/>
<rect x="342.90" y="312.60" width="12.2" height="16.90" fill="#0505f2"/>
<rect x="356.10" y="282.00" width="12.2" height="47.50" fill="#0505f2"/>
<rect x="369.30" y="312.60" width="12.2" height="16.90" fill="#0505f2"/>
<rect x="382.50" y="322.20" width="12.2" height="7.30" fill="#0505f2"/>
<rect x="395.70" y="325.80" width="12.2" height="3.70" fill="#0505f2"/>
<rect x="267.5" y="221" width="68.3" height="68.2" fill="#fff" stroke="#aaa" stroke-width="0.8"/>
<g transform="translate(224,0)"></g>
<defs><linearGradient id="pg224" x1="0" y1="0" x2="0" y2="1"><stop offset="0" stop-color="#e9ef3a"/><stop offset="0.2" stop-color="#b7d637"/><stop offset="0.4" stop-color="#6fb52b"/><stop offset="0.6" stop-color="#2f9a22"/><stop offset="0.8" stop-color="#127a12"/><stop offset="1" stop-color="#021402"/></linearGradient></defs>
<rect x="338.8" y="224.7" width="1.3" height="59" fill="url(#pg224)"/>
<text x="341.5" y="234.5" font-size="5.5" font-weight="normal">3</text>
<text x="341.5" y="249.3" font-size="5.5" font-weight="normal">1</text>
<text x="341.5" y="264.1" font-size="5.5" font-weight="normal">−1</text>
<text x="341.5" y="278.40000000000003" font-size="5.5" font-weight="normal">−3</text>
<text transform="translate(264.4,254.4) rotate(-90)" font-size="6" font-weight="normal" text-anchor="middle">y</text>
<text x="300.9" y="295" font-size="6" font-weight="normal" text-anchor="middle">x</text>
<rect x="268.9" y="221.9" width="66.0" height="65.99999999999997" fill="#e3eb3a"/>
<path d="M268.90,234.20 L268.90,234.20 C269.90,234.07 272.93,233.30 274.90,233.40 C276.87,233.50 278.78,233.98 280.70,234.80 C282.62,235.62 284.48,236.95 286.40,238.30 C288.32,239.65 290.28,241.18 292.20,242.90 C294.12,244.62 296.18,247.15 297.90,248.60 C299.62,250.05 301.10,250.93 302.50,251.60 C303.90,252.27 305.67,252.43 306.30,252.60 L306.50,254.80 L306.50,254.80 C305.65,254.70 303.40,254.57 301.40,254.20 C299.40,253.83 296.80,253.25 294.50,252.60 C292.20,251.95 289.90,251.07 287.60,250.30 C285.30,249.53 282.82,248.52 280.70,248.00 C278.58,247.48 276.87,247.20 274.90,247.20 C272.93,247.20 269.90,247.87 268.90,248.00Z" fill="#bad531"/>
<path d="M268.9,221.9 L290.40,221.90 L290.40,221.90 C290.60,222.90 291.02,225.75 291.60,227.90 C292.18,230.05 292.95,232.30 293.90,234.80 C294.85,237.30 296.05,240.40 297.30,242.90 C298.55,245.40 299.90,248.18 301.40,249.80 C302.90,251.42 305.48,252.13 306.30,252.60 L306.30,252.60 C305.67,252.43 303.90,252.27 302.50,251.60 C301.10,250.93 299.62,250.05 297.90,248.60 C296.18,247.15 294.12,244.62 292.20,242.90 C290.28,241.18 288.32,239.65 286.40,238.30 C284.48,236.95 282.62,235.62 280.70,234.80 C278.78,233.98 276.87,233.50 274.90,233.40 C272.93,233.30 269.90,234.07 268.90,234.20Z" fill="#82bb2a"/>
<path d="M290.40,221.90 L290.40,221.90 C290.60,222.90 291.02,225.75 291.60,227.90 C292.18,230.05 292.95,232.30 293.90,234.80 C294.85,237.30 296.05,240.40 297.30,242.90 C298.55,245.40 299.90,248.18 301.40,249.80 C302.90,251.42 305.48,252.13 306.30,252.60 L306.30,252.60 C306.25,251.55 306.15,248.68 306.00,246.30 C305.85,243.92 305.40,240.98 305.40,238.30 C305.40,235.62 305.62,232.93 306.00,230.20 C306.38,227.47 307.42,223.28 307.70,221.90Z" fill="#45a023"/>
<path d="M307.70,221.90 L307.70,221.90 C307.42,223.28 306.38,227.47 306.00,230.20 C305.62,232.93 305.40,235.62 305.40,238.30 C305.40,240.98 305.85,243.92 306.00,246.30 C306.15,248.68 306.25,251.55 306.30,252.60 L330.8,221.9Z" fill="#1b7e1b"/>
<path d="M330.8,221.9 L334.9,221.9 L334.90,242.80 L329.80,242.80 L329.80,245.80 L326.30,245.80 L326.30,247.80 L322.70,247.80 L322.70,249.90 L318.70,249.90 L318.70,251.40 L306.30,252.60Z" fill="#0a3a0a"/>
<path d="M268.90,266.70 L272.60,266.70 L272.60,264.70 L275.60,264.70 L275.60,262.60 L278.60,262.60 L278.60,260.60 L281.20,260.60 L281.20,258.80 L283.50,258.80 L283.50,257.30 L285.30,257.30 L285.30,256.00 L298.00,256.00 L271,287.9 L268.9,287.9Z" fill="#0a3a0a"/>
<path d="M298.00,256.00 L298.00,256.00 C298.10,256.42 298.53,257.32 298.60,258.50 C298.67,259.68 298.77,260.63 298.40,263.10 C298.03,265.57 297.08,269.17 296.40,273.30 C295.72,277.43 294.65,285.47 294.30,287.90 L271,287.9Z" fill="#1b7e1b"/>
<path d="M299.20,256.50 L299.20,256.50 C299.42,257.00 299.78,258.05 300.50,259.50 C301.22,260.95 302.33,262.57 303.50,265.20 C304.67,267.83 306.32,271.52 307.50,275.30 C308.68,279.08 310.08,285.80 310.60,287.90 L294.30,287.90 C294.65,285.47 295.72,277.43 296.40,273.30 C297.08,269.17 298.03,265.57 298.40,263.10 C298.77,260.63 298.67,259.68 298.60,258.50 C298.53,257.32 298.10,256.42 298.00,256.00Z" fill="#45a023"/>
<path d="M300.20,256.30 L300.20,256.30 C300.83,256.75 302.27,257.70 304.00,259.00 C305.73,260.30 307.82,262.07 310.60,264.10 C313.38,266.13 317.67,269.33 320.70,271.20 C323.73,273.07 326.43,274.45 328.80,275.30 C331.17,276.15 333.88,276.13 334.90,276.30 L334.9,287.9 L310.60,287.90 L310.60,287.90 C310.08,285.80 308.68,279.08 307.50,275.30 C306.32,271.52 304.67,267.83 303.50,265.20 C302.33,262.57 301.22,260.95 300.50,259.50 C299.78,258.05 299.42,257.00 299.20,256.50Z" fill="#82bb2a"/>
<path d="M301.20,256.00 L301.20,256.00 C302.17,256.25 304.93,256.98 307.00,257.50 C309.07,258.02 310.82,258.50 313.60,259.10 C316.38,259.70 320.15,260.60 323.70,261.10 C327.25,261.60 333.03,261.93 334.90,262.10 L334.90,276.30 C333.88,276.13 331.17,276.15 328.80,275.30 C326.43,274.45 323.73,273.07 320.70,271.20 C317.67,269.33 313.38,266.13 310.60,264.10 C307.82,262.07 305.73,260.30 304.00,259.00 C302.27,257.70 300.83,256.75 300.20,256.30Z" fill="#bad531"/>
<rect x="494" y="62" width="115.5" height="114.5" fill="#2d4ceb"/>
<path d="M505.40,91.00 C509.42,90.08 518.88,88.82 522.90,89.90 C526.92,90.98 528.03,93.67 529.50,97.50 C530.97,101.33 531.15,106.68 531.70,112.90 C532.25,119.12 532.80,128.58 532.80,134.80 C532.80,141.02 533.35,146.72 531.70,150.20 C530.05,153.68 525.83,155.15 522.90,155.70 C519.97,156.25 517.02,155.88 514.10,153.50 C511.18,151.12 507.95,146.33 505.40,141.40 C502.85,136.47 500.35,130.12 498.80,123.90 C497.25,117.68 496.10,108.85 496.10,104.10 C496.10,99.35 497.25,97.58 498.80,95.40 C500.35,93.22 501.38,91.92 505.40,91.00Z" fill="#b1bdf3"/>
<path d="M514.10,97.50 C516.67,97.68 520.88,97.13 522.90,99.70 C524.92,102.27 525.47,107.05 526.20,112.90 C526.93,118.75 527.48,129.50 527.30,134.80 C527.12,140.10 526.57,142.87 525.10,144.70 C523.63,146.53 521.07,147.08 518.50,145.80 C515.93,144.52 512.25,141.38 509.70,137.00 C507.15,132.62 504.28,124.98 503.20,119.50 C502.12,114.02 502.48,107.58 503.20,104.10 C503.92,100.62 505.68,99.70 507.50,98.60 C509.32,97.50 511.53,97.32 514.10,97.50Z" fill="#f5f7ef"/>
<path d="M515.20,104.10 C517.22,104.28 520.33,104.83 521.80,107.40 C523.27,109.97 523.63,115.30 524.00,119.50 C524.37,123.70 524.55,129.32 524.00,132.60 C523.45,135.88 522.17,138.28 520.70,139.20 C519.23,140.12 517.22,139.93 515.20,138.10 C513.18,136.27 510.07,132.03 508.60,128.20 C507.13,124.37 506.22,118.75 506.40,115.10 C506.58,111.45 508.23,108.13 509.70,106.30 C511.17,104.47 513.18,103.92 515.20,104.10Z" fill="#fffa62"/>
<path d="M515.20,110.70 C517.03,111.07 520.33,112.90 521.80,115.10 C523.27,117.30 524.00,120.98 524.00,123.90 C524.00,126.82 522.90,130.97 521.80,132.60 C520.70,134.23 519.23,134.43 517.40,133.70 C515.57,132.97 512.27,130.57 510.80,128.20 C509.33,125.83 508.60,122.05 508.60,119.50 C508.60,116.95 509.70,114.37 510.80,112.90 C511.90,111.43 513.37,110.33 515.20,110.70Z" fill="#e49b38"/>
<path d="M514.10,117.30 C515.02,116.75 517.58,117.12 518.50,118.40 C519.42,119.68 519.78,123.18 519.60,125.00 C519.42,126.82 518.32,128.95 517.40,129.30 C516.48,129.65 514.83,128.37 514.10,127.10 C513.37,125.83 513.00,123.33 513.00,121.70 C513.00,120.07 513.18,117.85 514.10,117.30Z" fill="#d9262f"/>
<path d="M579.70,83.80 C582.07,83.43 585.57,83.08 588.50,84.90 C591.43,86.72 594.55,89.77 597.30,94.70 C600.05,99.63 603.37,107.55 605.00,114.50 C606.63,121.45 607.28,131.28 607.10,136.40 C606.92,141.52 606.27,143.18 603.90,145.20 C601.53,147.22 597.30,148.50 592.90,148.50 C588.50,148.50 580.97,147.22 577.50,145.20 C574.03,143.18 573.18,141.52 572.10,136.40 C571.02,131.28 571.00,121.45 571.00,114.50 C571.00,107.55 571.55,99.27 572.10,94.70 C572.65,90.13 573.03,88.92 574.30,87.10 C575.57,85.28 577.33,84.17 579.70,83.80Z" fill="#b1bdf3"/>
<path d="M584.10,93.60 C586.48,93.60 589.42,94.15 591.80,96.90 C594.18,99.65 596.93,104.98 598.40,110.10 C599.87,115.22 600.60,122.85 600.60,127.60 C600.60,132.35 600.05,136.40 598.40,138.60 C596.75,140.80 593.82,140.80 590.70,140.80 C587.58,140.80 582.25,141.17 579.70,138.60 C577.15,136.03 576.30,130.52 575.40,125.40 C574.50,120.28 573.95,112.65 574.30,107.90 C574.65,103.15 575.87,99.28 577.50,96.90 C579.13,94.52 581.72,93.60 584.10,93.60Z" fill="#f5f7ef"/>
<path d="M585.20,99.10 C587.22,99.28 589.97,100.93 591.80,103.50 C593.63,106.07 595.47,110.48 596.20,114.50 C596.93,118.52 596.93,124.13 596.20,127.60 C595.47,131.07 593.82,134.02 591.80,135.30 C589.78,136.58 586.30,136.58 584.10,135.30 C581.90,134.02 579.88,131.07 578.60,127.60 C577.32,124.13 576.22,118.70 576.40,114.50 C576.58,110.30 578.23,104.97 579.70,102.40 C581.17,99.83 583.18,98.92 585.20,99.10Z" fill="#fffa62"/>
<path d="M584.10,104.60 C585.75,104.78 588.87,105.70 590.70,107.90 C592.53,110.10 594.73,114.70 595.10,117.80 C595.47,120.90 594.18,124.68 592.90,126.50 C591.62,128.32 589.42,129.07 587.40,128.70 C585.38,128.33 582.27,126.67 580.80,124.30 C579.33,121.93 578.60,117.42 578.60,114.50 C578.60,111.58 579.88,108.45 580.80,106.80 C581.72,105.15 582.45,104.42 584.10,104.60Z" fill="#e49b38"/>
<path d="M584.10,110.10 C584.83,109.07 586.48,109.40 587.40,110.50 C588.32,111.60 589.42,114.95 589.60,116.70 C589.78,118.45 589.23,120.10 588.50,121.00 C587.77,121.90 586.12,122.82 585.20,122.10 C584.28,121.38 583.18,118.70 583.00,116.70 C582.82,114.70 583.37,111.13 584.10,110.10Z" fill="#d9262f"/>
<path d="M543.20,88.20 C545.20,87.12 546.97,87.12 548.60,88.20 C550.23,89.28 551.90,90.68 553.00,94.70 C554.10,98.72 553.55,106.08 555.20,112.30 C556.85,118.52 561.25,126.52 562.90,132.00 C564.55,137.48 566.20,141.90 565.10,145.20 C564.00,148.50 558.87,152.17 556.30,151.80 C553.73,151.43 551.35,147.40 549.70,143.00 C548.05,138.60 548.40,131.98 546.40,125.40 C544.40,118.82 539.33,108.62 537.70,103.50 C536.07,98.38 535.68,97.25 536.60,94.70 C537.52,92.15 541.20,89.28 543.20,88.20Z" fill="#b1bdf3"/>
<defs><linearGradient id="flc" gradientUnits="userSpaceOnUse" x1="595.1" y1="44.8" x2="662.4" y2="32.5"><stop offset="0" stop-color="#3a60ea"/><stop offset="0.5" stop-color="#3c62ea"/><stop offset="1" stop-color="#3458ea"/></linearGradient><filter id="blc" x="-20%" y="-20%" width="140%" height="140%"><feGaussianBlur stdDeviation="0.6"/></filter><clipPath id="cpc"><path d="M595.10,44.80 L620.00,20.50 L662.40,32.50 L641.40,62.20Z"/></clipPath></defs>
<path d="M591.60,27.80 L620.10,5.00 L663.30,15.60 M620.00,20.50 L620.10,5.00 M663.30,15.60 L662.40,32.50 M591.60,27.80 L638.30,45.30 L663.30,15.60" fill="none" stroke="#c4c4c4" stroke-width="0.5"/>
<path d="M595.10,44.80 L620.00,20.50 L662.40,32.50 L641.40,62.20Z" fill="url(#flc)"/>
<g filter="url(#blc)"><defs><linearGradient id="hc1" gradientUnits="userSpaceOnUse" x1="0" y1="18.7" x2="0" y2="50"><stop offset="0" stop-color="#d8302a"/><stop offset="0.08" stop-color="#ee9a30"/><stop offset="0.17" stop-color="#f4dc58"/><stop offset="0.32" stop-color="#f8f6d8"/><stop offset="0.45" stop-color="#fafaf8"/><stop offset="0.66" stop-color="#d0dcf8"/><stop offset="0.85" stop-color="#92aaf2"/><stop offset="1" stop-color="#5274ec"/></linearGradient></defs>
<defs><linearGradient id="hc2" gradientUnits="userSpaceOnUse" x1="0" y1="25.2" x2="0" y2="55"><stop offset="0" stop-color="#d8302a"/><stop offset="0.08" stop-color="#ee9a30"/><stop offset="0.17" stop-color="#f4dc58"/><stop offset="0.32" stop-color="#f8f6d8"/><stop offset="0.45" stop-color="#fafaf8"/><stop offset="0.66" stop-color="#d0dcf8"/><stop offset="0.85" stop-color="#92aaf2"/><stop offset="1" stop-color="#5274ec"/></linearGradient></defs>
<defs><linearGradient id="hc3" gradientUnits="userSpaceOnUse" x1="0" y1="24" x2="0" y2="50"><stop offset="0" stop-color="#e4eaf8"/><stop offset="0.45" stop-color="#b4c4f4"/><stop offset="1" stop-color="#4a6cec"/></linearGradient></defs>
<defs><radialGradient id="gc1" gradientUnits="userSpaceOnUse" cx="615.7" cy="44" r="13"><stop offset="0" stop-color="#ffffff" stop-opacity="0.8"/><stop offset="0.6" stop-color="#c8d4f8" stop-opacity="0.5"/><stop offset="1" stop-color="#4467ea" stop-opacity="0"/></radialGradient></defs>
<ellipse cx="615.7" cy="44" rx="14" ry="8" fill="url(#gc1)" clip-path="url(#cpc)"/>
<defs><radialGradient id="gc2" gradientUnits="userSpaceOnUse" cx="643.7" cy="49" r="13"><stop offset="0" stop-color="#ffffff" stop-opacity="0.8"/><stop offset="0.6" stop-color="#c8d4f8" stop-opacity="0.5"/><stop offset="1" stop-color="#4467ea" stop-opacity="0"/></radialGradient></defs>
<ellipse cx="643.7" cy="49" rx="14" ry="8" fill="url(#gc2)" clip-path="url(#cpc)"/>
<path d="M185.50,24.80 C186.25,24.72 187.37,24.63 187.50,26.00 C187.63,27.37 186.88,30.67 186.30,33.00 C185.72,35.33 184.80,37.75 184.00,40.00 C183.20,42.25 182.50,45.33 181.50,46.50 C180.50,47.67 178.58,48.08 178.00,47.00 C177.42,45.92 177.58,42.50 178.00,40.00 C178.42,37.50 179.67,34.25 180.50,32.00 C181.33,29.75 182.17,27.70 183.00,26.50 C183.83,25.30 184.75,24.88 185.50,24.80Z" fill="url(#hc3)" transform="translate(446.7,0)" />
<path d="M168.40,18.70 C169.07,18.75 169.90,19.97 170.50,20.50 C171.10,21.03 171.33,20.63 172.00,21.90 C172.67,23.17 173.65,25.90 174.50,28.10 C175.35,30.30 176.37,32.77 177.10,35.10 C177.83,37.43 178.83,40.03 178.90,42.10 C178.97,44.17 178.38,46.35 177.50,47.50 C176.62,48.65 176.00,48.83 173.60,49.00 C171.20,49.17 165.62,49.08 163.10,48.50 C160.58,47.92 159.38,46.27 158.50,45.50 C157.62,44.73 157.62,45.20 157.80,43.90 C157.98,42.60 158.87,40.05 159.60,37.70 C160.33,35.35 161.32,32.28 162.20,29.80 C163.08,27.32 164.18,24.40 164.90,22.80 C165.62,21.20 165.92,20.88 166.50,20.20 C167.08,19.52 167.73,18.65 168.40,18.70Z" fill="url(#hc1)" transform="translate(446.7,0)" />
<path d="M197.30,25.20 C197.87,25.27 198.57,26.38 199.00,27.00 C199.43,27.62 199.30,27.27 199.90,28.90 C200.50,30.53 201.72,34.02 202.60,36.80 C203.48,39.58 204.97,43.23 205.20,45.60 C205.43,47.97 205.47,49.68 204.00,51.00 C202.53,52.32 198.83,53.58 196.40,53.50 C193.97,53.42 190.57,51.52 189.40,50.50 C188.23,49.48 189.25,49.38 189.40,47.40 C189.55,45.42 189.72,41.53 190.30,38.60 C190.88,35.67 192.02,31.80 192.90,29.80 C193.78,27.80 194.87,27.37 195.60,26.60 C196.33,25.83 196.73,25.13 197.30,25.20Z" fill="url(#hc2)" transform="translate(446.7,0)" /></g>
<path d="M591.60,27.80 L595.10,44.80 L641.40,62.20 L662.40,32.50" fill="none" stroke="#333" stroke-width="0.8"/>
<text transform="translate(588.4,36.3) rotate(-90)" font-size="4.3" text-anchor="middle" style="fill:#222;stroke:none">Intensity</text>
<text x="611.5" y="57.6" font-size="3.8" font-weight="normal" text-anchor="middle" style="fill:#333">x</text>
<text x="655.1" y="50.5" font-size="3.8" font-weight="normal" text-anchor="middle" style="fill:#333">y</text>
<rect x="623.8" y="78.20" width="2.8" height="16.75" fill="#d9262f"/>
<rect x="623.8" y="94.90" width="2.8" height="16.75" fill="#e49b38"/>
<rect x="623.8" y="111.60" width="2.8" height="16.75" fill="#fffa62"/>
<rect x="623.8" y="128.30" width="2.8" height="16.75" fill="#f5f7ef"/>
<rect x="623.8" y="145.00" width="2.8" height="16.75" fill="#b1bdf3"/>
<rect x="623.8" y="161.70" width="2.8" height="16.75" fill="#2d4ceb"/>
<text x="627.4000000000001" y="98.90" font-size="9.3">1.0</text>
<text x="627.4000000000001" y="115.60" font-size="9.3">0.8</text>
<text x="627.4000000000001" y="132.30" font-size="9.3">0.6</text>
<text x="627.4000000000001" y="149.00" font-size="9.3">0.4</text>
<text x="627.4000000000001" y="165.70" font-size="9.3">0.2</text>
<rect x="491.6" y="59.5" width="119.5" height="119" fill="none" stroke="#9a9a9a" stroke-width="1"/>
<line x1="505.40000000000003" y1="178.5" x2="505.40000000000003" y2="176.5" stroke="#777" stroke-width="0.8"/>
<line x1="505.40000000000003" y1="59.5" x2="505.40000000000003" y2="61.5" stroke="#777" stroke-width="0.8"/>
<line x1="491.6" y1="165.2" x2="493.6" y2="165.2" stroke="#777" stroke-width="0.8"/>
<line x1="611.1" y1="165.2" x2="609.1" y2="165.2" stroke="#777" stroke-width="0.8"/>
<text x="505.40000000000003" y="189.5" font-size="10.8" text-anchor="middle">−4</text>
<text x="489.90000000000003" y="168.79999999999998" font-size="10.8" text-anchor="end">−4</text>
<line x1="528.4" y1="178.5" x2="528.4" y2="176.5" stroke="#777" stroke-width="0.8"/>
<line x1="528.4" y1="59.5" x2="528.4" y2="61.5" stroke="#777" stroke-width="0.8"/>
<line x1="491.6" y1="142.2" x2="493.6" y2="142.2" stroke="#777" stroke-width="0.8"/>
<line x1="611.1" y1="142.2" x2="609.1" y2="142.2" stroke="#777" stroke-width="0.8"/>
<text x="528.4" y="189.5" font-size="10.8" text-anchor="middle">−2</text>
<text x="489.90000000000003" y="145.79999999999998" font-size="10.8" text-anchor="end">−2</text>
<line x1="551.4" y1="178.5" x2="551.4" y2="176.5" stroke="#777" stroke-width="0.8"/>
<line x1="551.4" y1="59.5" x2="551.4" y2="61.5" stroke="#777" stroke-width="0.8"/>
<line x1="491.6" y1="119.2" x2="493.6" y2="119.2" stroke="#777" stroke-width="0.8"/>
<line x1="611.1" y1="119.2" x2="609.1" y2="119.2" stroke="#777" stroke-width="0.8"/>
<text x="551.4" y="189.5" font-size="10.8" text-anchor="middle">0</text>
<text x="489.90000000000003" y="122.8" font-size="10.8" text-anchor="end">0</text>
<line x1="574.4" y1="178.5" x2="574.4" y2="176.5" stroke="#777" stroke-width="0.8"/>
<line x1="574.4" y1="59.5" x2="574.4" y2="61.5" stroke="#777" stroke-width="0.8"/>
<line x1="491.6" y1="96.2" x2="493.6" y2="96.2" stroke="#777" stroke-width="0.8"/>
<line x1="611.1" y1="96.2" x2="609.1" y2="96.2" stroke="#777" stroke-width="0.8"/>
<text x="574.4" y="189.5" font-size="10.8" text-anchor="middle">2</text>
<text x="489.90000000000003" y="99.8" font-size="10.8" text-anchor="end">2</text>
<line x1="597.4000000000001" y1="178.5" x2="597.4000000000001" y2="176.5" stroke="#777" stroke-width="0.8"/>
<line x1="597.4000000000001" y1="59.5" x2="597.4000000000001" y2="61.5" stroke="#777" stroke-width="0.8"/>
<line x1="491.6" y1="73.2" x2="493.6" y2="73.2" stroke="#777" stroke-width="0.8"/>
<line x1="611.1" y1="73.2" x2="609.1" y2="73.2" stroke="#777" stroke-width="0.8"/>
<text x="597.4000000000001" y="189.5" font-size="10.8" text-anchor="middle">4</text>
<text x="489.90000000000003" y="76.8" font-size="10.8" text-anchor="end">4</text>
<text x="555.1" y="206.6" font-size="12.8" text-anchor="middle">x [cm]</text>
<text transform="translate(471.0,117.1) rotate(-90)" font-size="12.8" text-anchor="middle">y [cm]</text>
<rect x="478.5" y="218.1" width="181" height="111.4" fill="none" stroke="#9a9a9a" stroke-width="1"/>
<line x1="478.5" y1="329.50" x2="480.5" y2="329.50" stroke="#777" stroke-width="0.8"/>
<line x1="659.5" y1="329.50" x2="657.5" y2="329.50" stroke="#777" stroke-width="0.8"/>
<text x="477.3" y="332.90" font-size="9.5" text-anchor="end">0.0</text>
<line x1="479" y1="308.34" x2="659" y2="308.34" stroke="#dadada" stroke-width="0.6" stroke-dasharray="1.5,1.5"/>
<line x1="478.5" y1="308.34" x2="480.5" y2="308.34" stroke="#777" stroke-width="0.8"/>
<line x1="659.5" y1="308.34" x2="657.5" y2="308.34" stroke="#777" stroke-width="0.8"/>
<text x="477.3" y="311.74" font-size="9.5" text-anchor="end">0.2</text>
<line x1="479" y1="287.18" x2="659" y2="287.18" stroke="#dadada" stroke-width="0.6" stroke-dasharray="1.5,1.5"/>
<line x1="478.5" y1="287.18" x2="480.5" y2="287.18" stroke="#777" stroke-width="0.8"/>
<line x1="659.5" y1="287.18" x2="657.5" y2="287.18" stroke="#777" stroke-width="0.8"/>
<text x="477.3" y="290.58" font-size="9.5" text-anchor="end">0.4</text>
<line x1="479" y1="266.02" x2="659" y2="266.02" stroke="#dadada" stroke-width="0.6" stroke-dasharray="1.5,1.5"/>
<line x1="478.5" y1="266.02" x2="480.5" y2="266.02" stroke="#777" stroke-width="0.8"/>
<line x1="659.5" y1="266.02" x2="657.5" y2="266.02" stroke="#777" stroke-width="0.8"/>
<text x="477.3" y="269.42" font-size="9.5" text-anchor="end">0.6</text>
<line x1="479" y1="244.86" x2="659" y2="244.86" stroke="#dadada" stroke-width="0.6" stroke-dasharray="1.5,1.5"/>
<line x1="478.5" y1="244.86" x2="480.5" y2="244.86" stroke="#777" stroke-width="0.8"/>
<line x1="659.5" y1="244.86" x2="657.5" y2="244.86" stroke="#777" stroke-width="0.8"/>
<text x="477.3" y="248.26" font-size="9.5" text-anchor="end">0.8</text>
<line x1="479" y1="223.70" x2="659" y2="223.70" stroke="#dadada" stroke-width="0.6" stroke-dasharray="1.5,1.5"/>
<line x1="478.5" y1="223.70" x2="480.5" y2="223.70" stroke="#777" stroke-width="0.8"/>
<line x1="659.5" y1="223.70" x2="657.5" y2="223.70" stroke="#777" stroke-width="0.8"/>
<text x="477.3" y="227.10" font-size="9.5" text-anchor="end">1.0</text>
<text x="491.80" y="338.8" font-size="9" text-anchor="middle">−5</text>
<line x1="491.80" y1="218.1" x2="491.80" y2="220.1" stroke="#777" stroke-width="0.8"/>
<line x1="491.80" y1="329.5" x2="491.80" y2="327.5" stroke="#777" stroke-width="0.8"/>
<text x="505.00" y="338.8" font-size="9" text-anchor="middle">−4</text>
<line x1="505.00" y1="218.1" x2="505.00" y2="220.1" stroke="#777" stroke-width="0.8"/>
<line x1="505.00" y1="329.5" x2="505.00" y2="327.5" stroke="#777" stroke-width="0.8"/>
<text x="518.20" y="338.8" font-size="9" text-anchor="middle">−3</text>
<line x1="518.20" y1="218.1" x2="518.20" y2="220.1" stroke="#777" stroke-width="0.8"/>
<line x1="518.20" y1="329.5" x2="518.20" y2="327.5" stroke="#777" stroke-width="0.8"/>
<text x="531.40" y="338.8" font-size="9" text-anchor="middle">−2</text>
<line x1="531.40" y1="218.1" x2="531.40" y2="220.1" stroke="#777" stroke-width="0.8"/>
<line x1="531.40" y1="329.5" x2="531.40" y2="327.5" stroke="#777" stroke-width="0.8"/>
<text x="544.60" y="338.8" font-size="9" text-anchor="middle">−1</text>
<line x1="544.60" y1="218.1" x2="544.60" y2="220.1" stroke="#777" stroke-width="0.8"/>
<line x1="544.60" y1="329.5" x2="544.60" y2="327.5" stroke="#777" stroke-width="0.8"/>
<text x="557.80" y="338.8" font-size="9" text-anchor="middle">0</text>
<line x1="557.80" y1="218.1" x2="557.80" y2="220.1" stroke="#777" stroke-width="0.8"/>
<line x1="557.80" y1="329.5" x2="557.80" y2="327.5" stroke="#777" stroke-width="0.8"/>
<text x="571.00" y="338.8" font-size="9" text-anchor="middle">1</text>
<line x1="571.00" y1="218.1" x2="571.00" y2="220.1" stroke="#777" stroke-width="0.8"/>
<line x1="571.00" y1="329.5" x2="571.00" y2="327.5" stroke="#777" stroke-width="0.8"/>
<text x="584.20" y="338.8" font-size="9" text-anchor="middle">2</text>
<line x1="584.20" y1="218.1" x2="584.20" y2="220.1" stroke="#777" stroke-width="0.8"/>
<line x1="584.20" y1="329.5" x2="584.20" y2="327.5" stroke="#777" stroke-width="0.8"/>
<text x="597.40" y="338.8" font-size="9" text-anchor="middle">3</text>
<line x1="597.40" y1="218.1" x2="597.40" y2="220.1" stroke="#777" stroke-width="0.8"/>
<line x1="597.40" y1="329.5" x2="597.40" y2="327.5" stroke="#777" stroke-width="0.8"/>
<text x="610.60" y="338.8" font-size="9" text-anchor="middle">4</text>
<line x1="610.60" y1="218.1" x2="610.60" y2="220.1" stroke="#777" stroke-width="0.8"/>
<line x1="610.60" y1="329.5" x2="610.60" y2="327.5" stroke="#777" stroke-width="0.8"/>
<text x="623.80" y="338.8" font-size="9" text-anchor="middle">5</text>
<line x1="623.80" y1="218.1" x2="623.80" y2="220.1" stroke="#777" stroke-width="0.8"/>
<line x1="623.80" y1="329.5" x2="623.80" y2="327.5" stroke="#777" stroke-width="0.8"/>
<text x="637.00" y="338.8" font-size="9" text-anchor="middle">6</text>
<line x1="637.00" y1="218.1" x2="637.00" y2="220.1" stroke="#777" stroke-width="0.8"/>
<line x1="637.00" y1="329.5" x2="637.00" y2="327.5" stroke="#777" stroke-width="0.8"/>
<text x="650.20" y="338.8" font-size="9" text-anchor="middle">7</text>
<line x1="650.20" y1="218.1" x2="650.20" y2="220.1" stroke="#777" stroke-width="0.8"/>
<line x1="650.20" y1="329.5" x2="650.20" y2="327.5" stroke="#777" stroke-width="0.8"/>
<text x="571.7" y="353.2" font-size="10.3" text-anchor="middle">OAM states</text>
<text transform="translate(458.7,275) rotate(-90)" font-size="10.2" text-anchor="middle">Mode weight</text>
<rect x="525.30" y="328.70" width="12.2" height="0.80" fill="#0505f2"/>
<rect x="538.50" y="326.90" width="12.2" height="2.60" fill="#0505f2"/>
<rect x="551.70" y="321.30" width="12.2" height="8.20" fill="#0505f2"/>
<rect x="564.90" y="309.70" width="12.2" height="19.80" fill="#0505f2"/>
<rect x="578.10" y="289.10" width="12.2" height="40.40" fill="#0505f2"/>
<rect x="591.30" y="309.70" width="12.2" height="19.80" fill="#0505f2"/>
<rect x="604.50" y="321.30" width="12.2" height="8.20" fill="#0505f2"/>
<rect x="617.70" y="326.90" width="12.2" height="2.60" fill="#0505f2"/>
<rect x="630.90" y="328.70" width="12.2" height="0.80" fill="#0505f2"/>
<rect x="491.5" y="221" width="68.3" height="68.2" fill="#fff" stroke="#aaa" stroke-width="0.8"/>
<g transform="translate(448,0)"></g>
<defs><linearGradient id="pg448" x1="0" y1="0" x2="0" y2="1"><stop offset="0" stop-color="#e9ef3a"/><stop offset="0.2" stop-color="#b7d637"/><stop offset="0.4" stop-color="#6fb52b"/><stop offset="0.6" stop-color="#2f9a22"/><stop offset="0.8" stop-color="#127a12"/><stop offset="1" stop-color="#021402"/></linearGradient></defs>
<rect x="562.8" y="224.7" width="1.3" height="59" fill="url(#pg448)"/>
<text x="565.5" y="234.5" font-size="5.5" font-weight="normal">3</text>
<text x="565.5" y="249.3" font-size="5.5" font-weight="normal">1</text>
<text x="565.5" y="264.1" font-size="5.5" font-weight="normal">−1</text>
<text x="565.5" y="278.40000000000003" font-size="5.5" font-weight="normal">−3</text>
<text transform="translate(488.4,254.4) rotate(-90)" font-size="6" font-weight="normal" text-anchor="middle">y</text>
<text x="524.9" y="295" font-size="6" font-weight="normal" text-anchor="middle">x</text>
<rect x="492.9" y="221.9" width="66.0" height="65.99999999999997" fill="#1b7e1b"/>
<path d="M492.90,225.30 L507.80,221.90 L521.30,221.90 L521.30,228.00 L519.50,231.50 L512.00,231.40 L501.40,230.90 L492.90,232.50Z" fill="#0a3a0a"/>
<path d="M492.90,241.90 L497.30,235.60 L504.60,233.00 L512.90,234.60 L517.10,239.80 L518.10,247.10 L517.60,257.00 L517.00,270.00 L492.90,270.00Z" fill="#45a023"/>
<path d="M492.90,250.20 L498.30,244.00 L505.60,241.90 L512.90,243.40 L516.60,248.10 L516.60,257.00 L516.50,270.00 L492.90,270.00Z" fill="#82bb2a"/>
<path d="M492.90,256.50 L499.30,253.30 L506.60,251.80 L512.90,252.80 L516.00,255.40 L516.60,259.00 L516.60,270.00 L492.90,270.00Z" fill="#bad531"/>
<path d="M515.50,253.50 L518.50,254.50 L520.20,257.00 L520.20,276.00 L517.40,282.50 L515.00,285.00 L511.90,285.60 L508.00,284.60 L503.70,281.10 L497.00,276.00 L492.90,272.20 L492.90,262.00 L515.50,262.00Z" fill="#0a3a0a"/>
<path d="M492.90,263.40 L501.40,260.80 L509.80,259.80 L516.00,257.70 L516.60,259.30 L516.60,268.60 L514.50,268.60 L514.50,270.50 L512.90,272.80 L502.50,272.30 L497.30,268.60 L492.90,265.00Z" fill="#e3eb3a"/>
<path d="M492.90,221.90 L508.70,221.90 L508.70,224.10 L506.60,226.20 L501.40,227.30 L492.90,227.80Z" fill="#e3eb3a"/>
<path d="M492.90,283.80 L500.00,283.80 L503.50,287.90 L492.90,287.90Z" fill="#bad531"/>
<path d="M507.00,273.50 L512.50,273.50 L513.00,276.00 L508.00,276.20Z" fill="#031c03"/>
<path d="M508.00,281.50 L512.00,281.50 L512.50,283.50 L508.50,283.50Z" fill="#031c03"/>
<path d="M530.10,258.00 L530.60,241.90 L531.70,231.40 L534.80,226.70 L541.10,225.20 L549.40,225.70 L555.70,229.30 L558.90,233.50 L558.90,242.00 L533.50,260.00Z" fill="#0a3a0a"/>
<path d="M549.40,221.90 L558.90,221.90 L558.90,229.00 L555.00,226.50 L549.40,224.00Z" fill="#45a023"/>
<path d="M533.80,240.80 L534.80,240.80 L534.80,239.00 L536.50,239.00 L536.50,237.60 L538.50,237.60 L539.50,236.60 L547.30,236.60 L552.00,237.20 L555.00,238.50 L558.90,240.50 L558.90,257.00 L533.80,257.00Z" fill="#e3eb3a"/>
<path d="M533.50,252.30 L541.10,248.60 L549.40,247.60 L558.90,249.20 L558.90,261.50 L544.90,263.50 L533.80,260.00Z" fill="#bad531"/>
<path d="M533.80,258.50 L544.90,262.00 L558.90,260.00 L558.90,268.20 L548.60,269.80 L537.40,268.50 L533.80,267.00Z" fill="#82bb2a"/>
<path d="M533.80,267.00 L537.40,268.50 L548.60,269.80 L558.90,268.20 L558.90,274.50 L552.30,276.00 L539.30,275.00 L533.80,273.00Z" fill="#45a023"/>
<path d="M531.70,287.90 L531.40,281.00 L534.00,279.00 L540.00,278.40 L545.50,279.50 L547.50,283.30 L541.10,283.30 L539.00,287.90Z" fill="#0a3a0a"/>
<path d="M543.20,283.40 L558.90,283.40 L558.90,287.90 L541.00,287.90Z" fill="#e3eb3a"/>
<path d="M538.00,232.30 L545.50,231.80 L547.00,234.80 L538.50,235.50Z" fill="#031a03"/>
<text x="9.6" y="17.1" font-size="17">a)</text>
<text x="233.5" y="17.1" font-size="17">b)</text>
<text x="455.5" y="17.1" font-size="17">c)</text>
<rect x="223" y="1" width="2" height="362" fill="#737373"/>
<rect x="446" y="1" width="2" height="362" fill="#737373"/>
<rect x="1" y="1" width="669" height="1.2" fill="#111"/>
<rect x="1" y="1" width="1.2" height="363" fill="#111"/>
<rect x="668.9" y="1" width="1.3" height="363" fill="#111"/>
<rect x="1" y="362" width="669.2" height="2" fill="#111"/>
</svg></body></html>
